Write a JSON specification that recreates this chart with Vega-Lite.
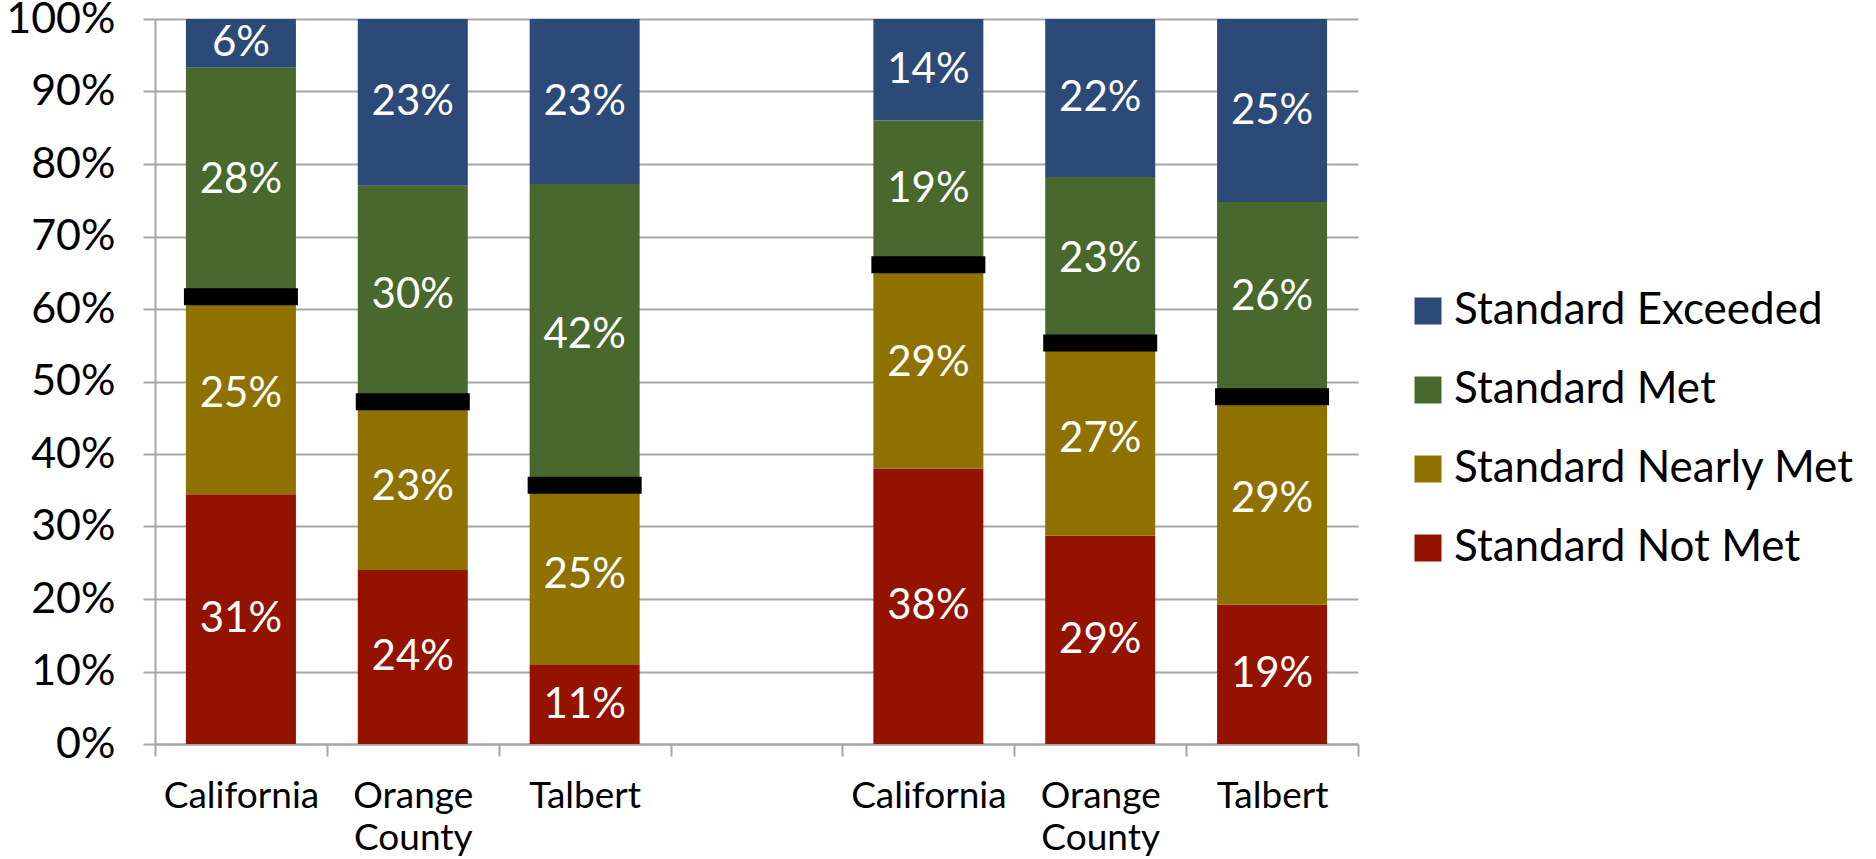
{
  "$schema": "https://vega.github.io/schema/vega-lite/v6.json",
  "width": 1203,
  "height": 725,
  "autosize": {"type": "none"},
  "padding": {"left": 155, "top": 19, "right": 518, "bottom": 115},
  "background": "white",
  "config": {
    "view": {"stroke": null},
    "font": "Lato",
    "axisY": {
      "grid": true,
      "gridColor": "#a6a6a6",
      "gridWidth": 2,
      "domainColor": "#a6a6a6",
      "domainWidth": 2,
      "tickColor": "#a6a6a6",
      "tickWidth": 2,
      "tickSize": 12,
      "labelFont": "Lato",
      "labelFontSize": 43,
      "labelColor": "black",
      "labelPadding": 28
    },
    "axisX": {
      "grid": false,
      "tickBand": "extent",
      "tickSize": 12,
      "tickColor": "#a6a6a6",
      "tickWidth": 2,
      "domainColor": "#a6a6a6",
      "domainWidth": 2,
      "labelFont": "Lato",
      "labelFontSize": 37,
      "labelColor": "black",
      "labelPadding": 22,
      "labelAngle": 0,
      "labelLineHeight": 42,
      "labelBaseline": "top"
    }
  },
  "datasets": {
    "scores": [
      {"cat": "California", "level": "Standard Not Met", "ord": 1, "v": 31},
      {"cat": "California", "level": "Standard Nearly Met", "ord": 2, "v": 25},
      {"cat": "California", "level": "Standard Met", "ord": 3, "v": 28},
      {"cat": "California", "level": "Standard Exceeded", "ord": 4, "v": 6},
      {"cat": "Orange County", "level": "Standard Not Met", "ord": 1, "v": 24},
      {"cat": "Orange County", "level": "Standard Nearly Met", "ord": 2, "v": 23},
      {"cat": "Orange County", "level": "Standard Met", "ord": 3, "v": 30},
      {"cat": "Orange County", "level": "Standard Exceeded", "ord": 4, "v": 23},
      {"cat": "Talbert", "level": "Standard Not Met", "ord": 1, "v": 11},
      {"cat": "Talbert", "level": "Standard Nearly Met", "ord": 2, "v": 25},
      {"cat": "Talbert", "level": "Standard Met", "ord": 3, "v": 42},
      {"cat": "Talbert", "level": "Standard Exceeded", "ord": 4, "v": 23},
      {"cat": "California ", "level": "Standard Not Met", "ord": 1, "v": 38},
      {"cat": "California ", "level": "Standard Nearly Met", "ord": 2, "v": 29},
      {"cat": "California ", "level": "Standard Met", "ord": 3, "v": 19},
      {"cat": "California ", "level": "Standard Exceeded", "ord": 4, "v": 14},
      {"cat": "Orange County ", "level": "Standard Not Met", "ord": 1, "v": 29},
      {"cat": "Orange County ", "level": "Standard Nearly Met", "ord": 2, "v": 27},
      {"cat": "Orange County ", "level": "Standard Met", "ord": 3, "v": 23},
      {"cat": "Orange County ", "level": "Standard Exceeded", "ord": 4, "v": 22},
      {"cat": "Talbert ", "level": "Standard Not Met", "ord": 1, "v": 19},
      {"cat": "Talbert ", "level": "Standard Nearly Met", "ord": 2, "v": 29},
      {"cat": "Talbert ", "level": "Standard Met", "ord": 3, "v": 26},
      {"cat": "Talbert ", "level": "Standard Exceeded", "ord": 4, "v": 25}
    ],
    "markers": [
      {"cat": "California", "m": 0.617},
      {"cat": "Orange County", "m": 0.472},
      {"cat": "Talbert", "m": 0.357},
      {"cat": "California ", "m": 0.661},
      {"cat": "Orange County ", "m": 0.553},
      {"cat": "Talbert ", "m": 0.479}
    ]
  },
  "encoding": {
    "x": {
      "field": "cat",
      "type": "nominal",
      "scale": {
        "domain": ["California", "Orange County", "Talbert", " ", "California ", "Orange County ", "Talbert "],
        "paddingInner": 0,
        "paddingOuter": 0
      },
      "axis": {
        "title": null,
        "labelExpr": "split(trim(datum.label), ' ')"
      }
    }
  },
  "layer": [
    {
      "data": {"name": "scores"},
      "transform": [
        {"stack": "v", "groupby": ["cat"], "sort": [{"field": "ord", "order": "ascending"}], "offset": "normalize", "as": ["y0", "y1"]},
        {"calculate": "(datum.y0 + datum.y1) / 2", "as": "ym"},
        {"calculate": "datum.v + '%'", "as": "lbl"}
      ],
      "layer": [
        {
          "mark": {"type": "bar", "width": {"band": 0.64}},
          "encoding": {
            "y": {
              "field": "y0",
              "type": "quantitative",
              "scale": {"domain": [0, 1]},
              "axis": {"title": null, "values": [0, 0.1, 0.2, 0.3, 0.4, 0.5, 0.6, 0.7, 0.8, 0.9, 1], "format": ".0%"}
            },
            "y2": {"field": "y1"},
            "color": {
              "field": "level",
              "type": "nominal",
              "scale": {
                "domain": ["Standard Exceeded", "Standard Met", "Standard Nearly Met", "Standard Not Met"],
                "range": ["#2C4A78", "#48682E", "#8F7100", "#941300"]
              },
              "legend": {
                "title": null,
                "orient": "none",
                "legendX": 1251,
                "legendY": 270,
                "symbolType": "square",
                "symbolSize": 729,
                "symbolStrokeWidth": 0,
                "labelFont": "Lato",
                "labelFontSize": 44,
                "labelColor": "black",
                "labelOffset": 4,
                "rowPadding": 35,
                "labelLimit": 600
              }
            }
          }
        },
        {
          "mark": {"type": "text", "color": "white", "fontSize": 42, "font": "Lato", "baseline": "middle"},
          "encoding": {
            "y": {"field": "ym", "type": "quantitative", "axis": {"title": null, "values": [0, 0.1, 0.2, 0.3, 0.4, 0.5, 0.6, 0.7, 0.8, 0.9, 1], "format": ".0%"}},
            "text": {"field": "lbl", "type": "nominal"}
          }
        }
      ]
    },
    {
      "data": {"name": "markers"},
      "mark": {"type": "tick", "color": "black", "opacity": 1, "thickness": 17, "size": 114},
      "encoding": {
        "y": {"field": "m", "type": "quantitative", "axis": {"title": null, "values": [0, 0.1, 0.2, 0.3, 0.4, 0.5, 0.6, 0.7, 0.8, 0.9, 1], "format": ".0%"}}
      }
    }
  ]
}
